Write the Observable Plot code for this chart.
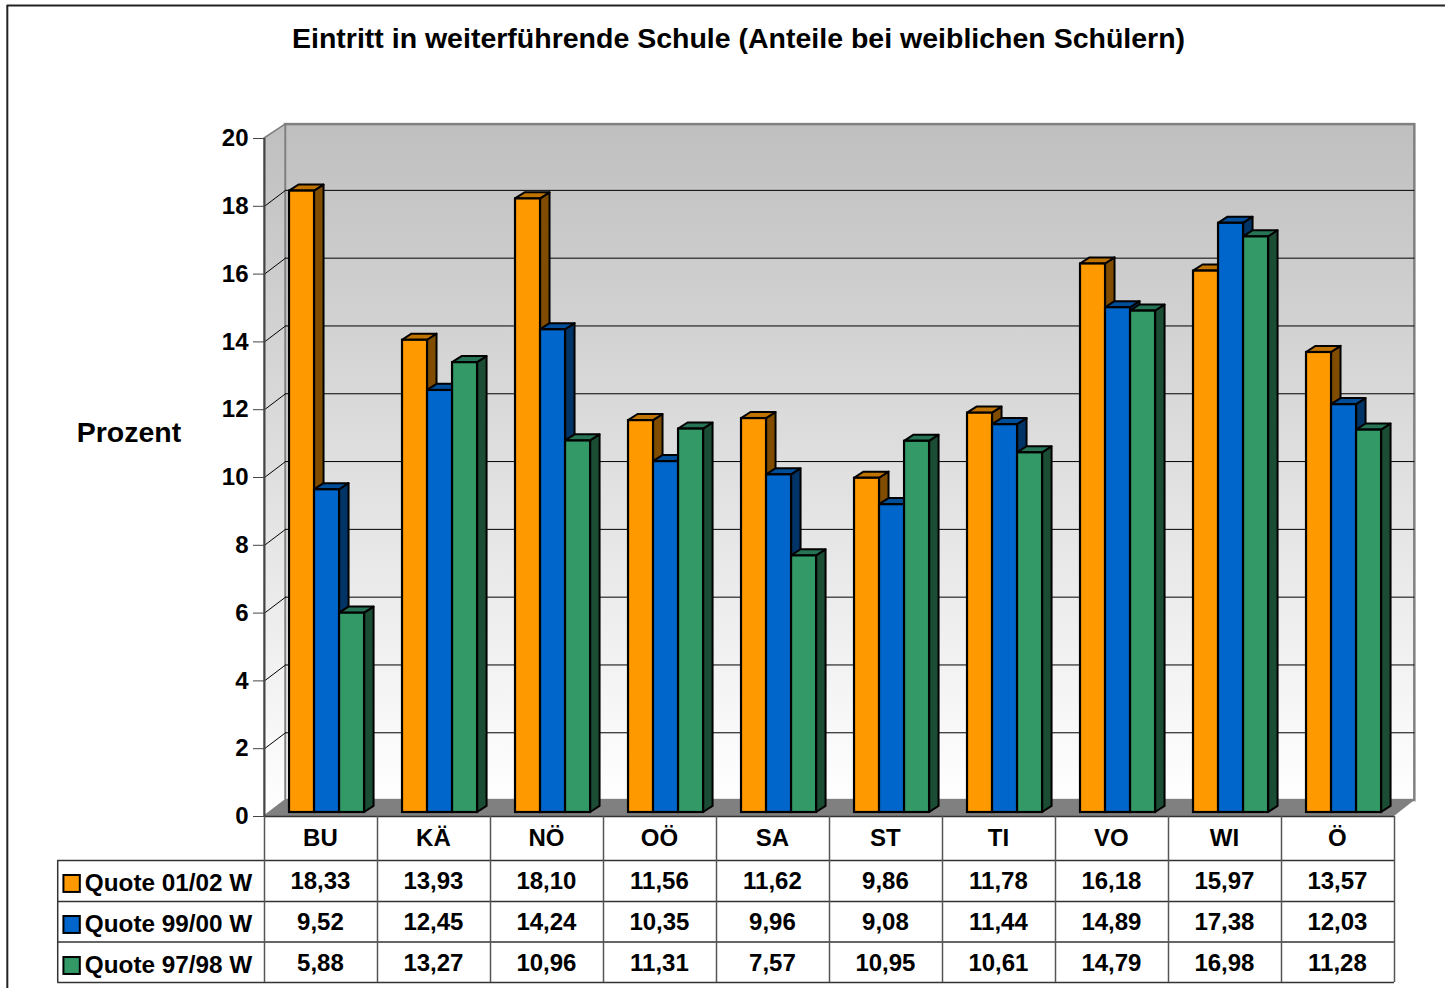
<!DOCTYPE html>
<html>
<head>
<meta charset="utf-8">
<script src="https://cdn.jsdelivr.net/npm/d3@7"></script>
<script src="https://cdn.jsdelivr.net/npm/@observablehq/plot@0.6"></script>
<style>
html,body{margin:0;padding:0;background:#fff;}
svg{display:block;}
</style>
</head>
<body>
<div id="chart"></div>
<script>
const categories = ["BU","KÄ","NÖ","OÖ","SA","ST","TI","VO","WI","Ö"];
const seriesNames = ["Quote 01/02 W","Quote 99/00 W","Quote 97/98 W"];
const quote0102 = [18.33,13.93,18.10,11.56,11.62,9.86,11.78,16.18,15.97,13.57];
const quote9900 = [9.52,12.45,14.24,10.35,9.96,9.08,11.44,14.89,17.38,12.03];
const quote9798 = [5.88,13.27,10.96,11.31,7.57,10.95,10.61,14.79,16.98,11.28];
const yTicks = [0,2,4,6,8,10,12,14,16,18,20];
const frontColors = ["#ff9900","#0066cc","#339966"];
const sideColors = ["#7f4c00","#003366","#1a4d33"];
const topColors = ["#bf7300","#004d99","#267355"];

const allSeries = [quote0102, quote9900, quote9798];
const fmt = v => d3.format(".2f")(v).replace(".", ",");

// geometry in scale units: one x unit = one category, y unit = one percent
const wallDx = 0.186, wallDy = 0.47, wallTop = 20.41, wallRight = 10.18;
const barW = 0.2214, base = 0.118, depthX = 0.084, depthY = 0.18;

const tableBottom = -4.9;
const rowLines = [-1.3, -2.51, -3.7, tableBottom];
const rowCentres = [-1.92, -3.13, -4.34];
const legendLeft = -1.83;

const faces = allSeries.map((vals, s) => vals.map((v, i) => {
  const x1 = i + barW * (s + 1), x2 = x1 + barW, top = base + v;
  return {id: i, x1, x2, y1: base, y2: top};
}));
const sidePts = faces.map(bs => bs.flatMap(b => [
  {id: b.id, x: b.x2, y1: b.y1, y2: b.y2},
  {id: b.id, x: b.x2 + depthX, y1: b.y1 + depthY, y2: b.y2 + depthY}
]));
const topPts = faces.map(bs => bs.flatMap(b => [
  {id: b.id, y: b.y2, x1: b.x1, x2: b.x2},
  {id: b.id, y: b.y2 + depthY, x1: b.x1 + depthX, x2: b.x2 + depthX}
]));

const barMarks = allSeries.flatMap((_, s) => [
  Plot.areaY(sidePts[s], {x: "x", y1: "y1", y2: "y2", z: "id", fill: sideColors[s], stroke: "#000", strokeWidth: 2, strokeLinejoin: "round"}),
  Plot.areaX(topPts[s], {y: "y", x1: "x1", x2: "x2", z: "id", fill: topColors[s], stroke: "#000", strokeWidth: 2, strokeLinejoin: "round"}),
  Plot.rect(faces[s], {x1: "x1", x2: "x2", y1: "y1", y2: "y2", fill: frontColors[s], stroke: "#000", strokeWidth: 2.2})
]);

const bold = {fontWeight: "bold", fontSize: 24, fill: "#000", lineAnchor: "middle"};

const chart = Plot.plot({
  width: 1445, height: 988,
  marginLeft: 264, marginRight: 51, marginTop: 138, marginBottom: 172,
  x: {domain: [0, 10], axis: null},
  y: {domain: [0, 20], axis: null},
  style: {fontFamily: "'Liberation Sans', Arial, sans-serif", background: "#fff", overflow: "visible"},
  marks: [
    () => d3.create("svg:defs").html(
      `<linearGradient id="wallFill" x1="0" y1="0" x2="0" y2="1">
         <stop offset="0" stop-color="#bfbfbf"/><stop offset="1" stop-color="#ffffff"/>
       </linearGradient>`).node(),
    // outer chart border
    Plot.ruleY([23.92], {x1: -2.276, x2: 10.6, stroke: "#222", strokeWidth: 2}),
    Plot.ruleX([-2.276], {y1: -5.1, y2: 23.92, stroke: "#222", strokeWidth: 2}),
    // walls and floor
    Plot.rect([{}], {x1: () => wallDx, x2: () => wallRight, y1: () => wallDy, y2: () => wallTop, fill: "url(#wallFill)", stroke: "#808080", strokeWidth: 2.5}),
    Plot.areaY([{x: 0, y1: 0, y2: 20}, {x: wallDx, y1: wallDy, y2: wallTop}], {x: "x", y1: "y1", y2: "y2", fill: "url(#wallFill)", stroke: "#808080", strokeWidth: 1.5}),
    Plot.areaX([{y: 0, x1: 0, x2: 10}, {y: wallDy, x1: wallDx, x2: wallRight}], {y: "y", x1: "x1", x2: "x2", fill: "#808080"}),
    // grid on back and left wall
    Plot.ruleY(yTicks.slice(1, -1), {y: d => d + wallDy, x1: wallDx, x2: wallRight, stroke: "#000", strokeWidth: 1}),
    Plot.link(yTicks.slice(1, -1), {x1: 0, x2: wallDx, y1: d => d, y2: d => d + wallDy, stroke: "#000", strokeWidth: 1}),
    // bars
    ...barMarks,
    // axis
    Plot.ruleX([0], {y1: 0, y2: 20, stroke: "#444", strokeWidth: 2}),
    Plot.axisY(yTicks, {anchor: "left", tickSize: 11, tickPadding: 5, fontSize: 24, fontWeight: "bold", stroke: "#444", color: "#000", label: null}),
    // data table
    Plot.ruleY([0], {x1: 0, x2: 10, stroke: "#333", strokeWidth: 1.5}),
    Plot.ruleY(rowLines, {x1: legendLeft, x2: 10, stroke: "#333", strokeWidth: 1.5}),
    Plot.ruleX(d3.range(0, 11), {y1: 0, y2: tableBottom, stroke: "#555", strokeWidth: 1.5}),
    Plot.ruleX([legendLeft], {y1: rowLines[0], y2: tableBottom, stroke: "#333", strokeWidth: 1.5}),
    Plot.text(categories, {x: (d, i) => i + 0.495, y: () => -0.65, text: d => d, ...bold}),
    ...allSeries.map((vals, s) => Plot.text(vals, {x: (d, i) => i + 0.495, y: () => rowCentres[s], text: fmt, ...bold})),
    Plot.rect(seriesNames, {x1: () => -1.775, x2: () => -1.63, y1: (d, s) => rowCentres[s] - 0.32, y2: (d, s) => rowCentres[s] + 0.18, fill: (d, s) => frontColors[s], stroke: "#000", strokeWidth: 2}),
    Plot.text(seriesNames, {x: () => -1.59, y: (d, s) => rowCentres[s] - 0.045, text: d => d, textAnchor: "start", ...bold, fontSize: 24.3}),
    // titles
    Plot.text(["Eintritt in weiterführende Schule (Anteile bei weiblichen Schülern)"], {x: () => 4.195, y: () => 22.95, text: d => d, fontWeight: "bold", fontSize: 28.5, fill: "#000", lineAnchor: "middle"}),
    Plot.text(["Prozent"], {x: () => -1.2, y: () => 11.33, text: d => d, fontWeight: "bold", fontSize: 28.5, fill: "#000", lineAnchor: "middle"})
  ]
});
document.getElementById("chart").appendChild(chart);
</script>
</body>
</html>
